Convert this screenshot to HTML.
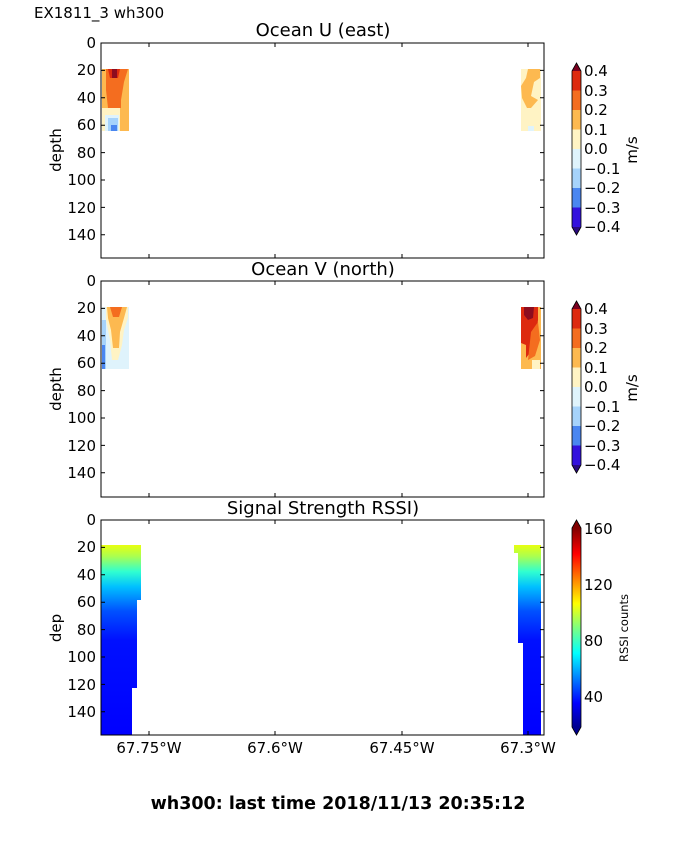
<!DOCTYPE html>
<html><head><meta charset="utf-8"><style>
body{margin:0;background:#fff}
svg text{font-family:"DejaVu Sans","Liberation Sans",sans-serif;fill:#000}
</style></head><body>
<svg width="675" height="855" viewBox="0 0 675 855" xmlns="http://www.w3.org/2000/svg">
<defs>
<linearGradient id="jet" x1="0" y1="1" x2="0" y2="0">
<stop offset="0" stop-color="#00008f"/><stop offset="0.12" stop-color="#0000ff"/>
<stop offset="0.37" stop-color="#00ffff"/><stop offset="0.5" stop-color="#7fff7f"/>
<stop offset="0.62" stop-color="#ffff00"/><stop offset="0.87" stop-color="#ff0000"/>
<stop offset="1" stop-color="#800000"/></linearGradient>
<linearGradient id="rs" x1="0" y1="0" x2="0" y2="1">
<stop offset="0" stop-color="#e8ff10"/><stop offset="0.06" stop-color="#aaff50"/>
<stop offset="0.14" stop-color="#30ffd0"/><stop offset="0.22" stop-color="#00c0ff"/>
<stop offset="0.35" stop-color="#0050ff"/><stop offset="0.5" stop-color="#0010ff"/>
<stop offset="1" stop-color="#0000ff"/></linearGradient>
</defs>
<text x="34" y="18" font-size="15">EX1811_3 wh300</text>

<!-- Panel 1 -->
<text x="323" y="36" font-size="18" text-anchor="middle">Ocean U (east)</text>
<g>
<rect x="102" y="69" width="27" height="62" fill="#fdb950"/>
<rect x="102" y="108" width="18" height="23" fill="#fff3c4"/>
<rect x="105" y="115" width="14" height="16" fill="#dff3fc"/>
<rect x="108" y="118" width="10" height="13" fill="#a6d3fb"/>
<rect x="111" y="125" width="6" height="6" fill="#4a86f0"/>
<path d="M106 69 L128 69 L124 82 L121 100 L121 108 L108 108 L106 90 Z" fill="#f46d1f"/>
<path d="M108 69 L120 69 L118 78 L110 78 Z" fill="#dd2a0f"/>
<rect x="112" y="69" width="5" height="9" fill="#8c0c1f"/>
<rect x="521" y="69" width="20" height="62" fill="#fff3c4"/>
<path d="M528 69 L540 69 L540 78 L534 82 L531 96 L538 100 L531 108 L527 108 L522 98 L521 86 L526 78 Z" fill="#fdb950"/>
<rect x="528" y="126" width="6" height="5" fill="#dff3fc"/>
</g>
<rect x="101" y="43" width="443" height="215" fill="none" stroke="#000" stroke-width="1"/>

<!-- Panel 2 -->
<text x="323" y="275" font-size="18" text-anchor="middle">Ocean V (north)</text>
<g>
<rect x="102" y="307" width="27" height="62" fill="#dff3fc"/>
<rect x="102" y="320" width="4" height="49" fill="#a6d3fb"/>
<rect x="102" y="345" width="3" height="24" fill="#4a86f0"/>
<path d="M106 307 L128 307 L128 318 L124 330 L122 345 L118 360 L112 360 L110 340 L106 320 Z" fill="#fff3c4"/>
<path d="M107 307 L127 307 L124 318 L120 332 L119 348 L113 348 L111 330 L108 318 Z" fill="#fdb950"/>
<path d="M110 307 L122 307 L119 317 L113 317 Z" fill="#f46d1f"/>
<rect x="521" y="307" width="20" height="62" fill="#fdb950"/>
<path d="M521 307 L538 307 L538 320 L536 335 L532 350 L526 358 L526 345 L521 343 Z" fill="#dd2a0f"/>
<path d="M531 332 L538 322 L540 340 L535 356 L528 360 Z" fill="#f46d1f"/>
<path d="M524 307 L534 307 L533 318 L528 320 L524 315 Z" fill="#8c0c1f"/>
<rect x="532" y="360" width="8" height="9" fill="#fff3c4"/>
</g>
<rect x="101" y="281" width="443" height="216" fill="none" stroke="#000" stroke-width="1"/>

<!-- Panel 3 -->
<text x="323" y="514" font-size="18" text-anchor="middle">Signal Strength RSSI)</text>
<g>
<path d="M101 545 L141 545 L141 600 L137 600 L137 688 L132 688 L132 735 L101 735 Z" fill="url(#rs)"/>
<path d="M514 545 L541 545 L541 735 L523 735 L523 643 L518 643 L518 553 L514 553 Z" fill="url(#rs)"/>
</g>
<rect x="101" y="520" width="443" height="215" fill="none" stroke="#000" stroke-width="1"/>

<!-- y ticks -->
<g font-size="15" text-anchor="end">
<g id="yt">
<text x="96" y="48">0</text><text x="96" y="75">20</text><text x="96" y="103">40</text>
<text x="96" y="130">60</text><text x="96" y="158">80</text><text x="96" y="185">100</text>
<text x="96" y="213">120</text><text x="96" y="240">140</text>
</g>
<use href="#yt" y="238"/><use href="#yt" y="477"/>
</g>
<g stroke="#000" stroke-width="1">
<path d="M101 70.4h4M101 97.8h4M101 125.2h4M101 152.6h4M101 180h4M101 207.4h4M101 234.8h4M544 70.4h-4M544 97.8h-4M544 125.2h-4M544 152.6h-4M544 180h-4M544 207.4h-4M544 234.8h-4"/>
<path transform="translate(0,238)" d="M101 70.4h4M101 97.8h4M101 125.2h4M101 152.6h4M101 180h4M101 207.4h4M101 234.8h4M544 70.4h-4M544 97.8h-4M544 125.2h-4M544 152.6h-4M544 180h-4M544 207.4h-4M544 234.8h-4"/>
<path transform="translate(0,477)" d="M101 70.4h4M101 97.8h4M101 125.2h4M101 152.6h4M101 180h4M101 207.4h4M101 234.8h4M544 70.4h-4M544 97.8h-4M544 125.2h-4M544 152.6h-4M544 180h-4M544 207.4h-4M544 234.8h-4"/>
<path d="M149 43v4M275 43v4M402 43v4M528 43v4M149 258v-4M275 258v-4M402 258v-4M528 258v-4"/>
<path d="M149 281v4M275 281v4M402 281v4M528 281v4M149 497v-4M275 497v-4M402 497v-4M528 497v-4"/>
<path d="M149 520v4M275 520v4M402 520v4M528 520v4M149 735v-4M275 735v-4M402 735v-4M528 735v-4"/>
</g>
<text x="61" y="150" font-size="15" text-anchor="middle" transform="rotate(-90 61 150)">depth</text>
<text x="61" y="389" font-size="15" text-anchor="middle" transform="rotate(-90 61 389)">depth</text>
<text x="61" y="628" font-size="15" text-anchor="middle" transform="rotate(-90 61 628)">dep</text>
<g font-size="15" text-anchor="middle">
<text x="149" y="753">67.75°W</text><text x="275" y="753">67.6°W</text>
<text x="402" y="753">67.45°W</text><text x="528" y="753">67.3°W</text>
</g>

<!-- Colorbars U/V -->
<g id="cb">
<path d="M572 71 L576.5 63 L581 71 Z" fill="#7a0020"/>
<rect x="572" y="71" width="9" height="19.5" fill="#dd2a0f"/>
<rect x="572" y="90.5" width="9" height="19.5" fill="#f46d1f"/>
<rect x="572" y="110" width="9" height="19.5" fill="#fdb950"/>
<rect x="572" y="129.5" width="9" height="19.5" fill="#fff3c4"/>
<rect x="572" y="149" width="9" height="19.5" fill="#dff3fc"/>
<rect x="572" y="168.5" width="9" height="19.5" fill="#a6d3fb"/>
<rect x="572" y="188" width="9" height="19.5" fill="#4a86f0"/>
<rect x="572" y="207.5" width="9" height="19.5" fill="#3311dd"/>
<path d="M572 227 L576.5 235 L581 227 Z" fill="#2a0a80"/>
<path d="M572 71 L576.5 63 L581 71 L581 227 L576.5 235 L572 227 Z" fill="none" stroke="#000" stroke-width="0.8"/>
<g font-size="15">
<text x="584" y="76">0.4</text><text x="584" y="96">0.3</text><text x="584" y="115">0.2</text>
<text x="584" y="135">0.1</text><text x="584" y="154">0.0</text><text x="584" y="174">−0.1</text>
<text x="584" y="193">−0.2</text><text x="584" y="213">−0.3</text><text x="584" y="232">−0.4</text>
</g>
<text x="637" y="150" font-size="15" text-anchor="middle" transform="rotate(-90 637 150)">m/s</text>
</g>
<use href="#cb" y="238"/>

<!-- Colorbar RSSI -->
<path d="M572 528 L576.5 520 L581 528 Z" fill="#800000"/>
<rect x="572" y="528" width="9" height="199" fill="url(#jet)"/>
<path d="M572 727 L576.5 735 L581 727 Z" fill="#00008f"/>
<path d="M572 528 L576.5 520 L581 528 L581 727 L576.5 735 L572 727 Z" fill="none" stroke="#000" stroke-width="0.8"/>
<g font-size="15">
<text x="584" y="534">160</text><text x="584" y="590">120</text>
<text x="584" y="646">80</text><text x="584" y="702">40</text>
</g>
<text x="628" y="628" font-size="11.5" text-anchor="middle" transform="rotate(-90 628 628)">RSSI counts</text>

<text x="338" y="809" font-size="17.5" font-weight="bold" text-anchor="middle">wh300: last time 2018/11/13 20:35:12</text>
</svg>
</body></html>
